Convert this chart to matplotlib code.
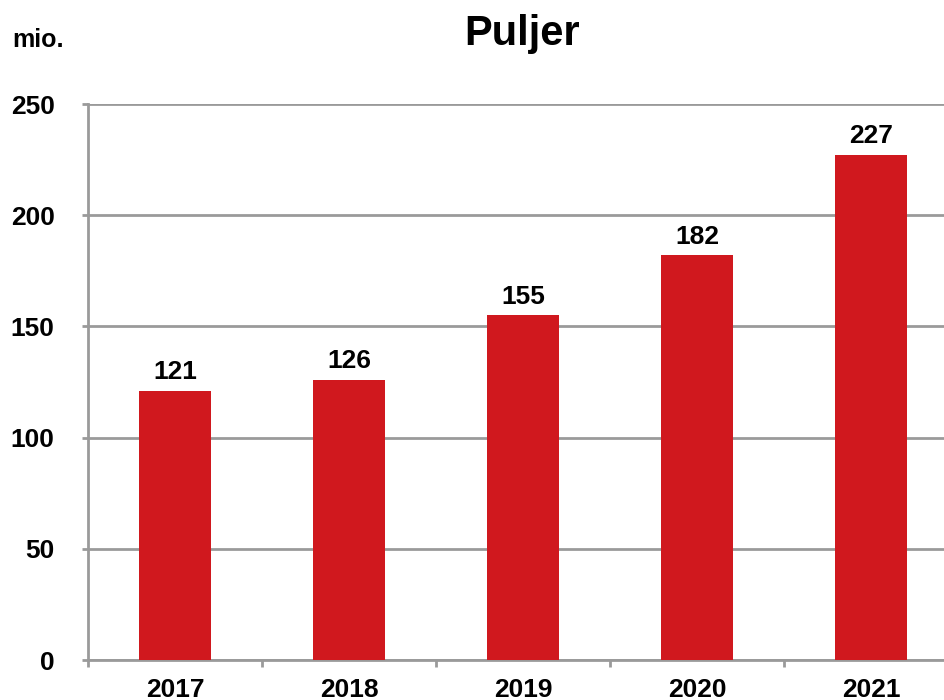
import matplotlib
matplotlib.use("Agg")
import matplotlib.pyplot as plt
import numpy as np

plt.rcParams['font.family'] = ['Liberation Sans', 'DejaVu Sans']

years = ["2017", "2018", "2019", "2020", "2021"]
values = [121, 126, 155, 182, 227]
yticks = [0, 50, 100, 150, 200, 250]

W, H = 944, 700
fig = plt.figure(figsize=(W/100, H/100), dpi=100)
left, right, top, bottom = 88, 958, 104, 660
ax = fig.add_axes([left/W, 1-bottom/H, (right-left)/W, (bottom-top)/H])

x = np.arange(len(years))
bar_color = "#D0181E"
ax.bar(x, values, width=0.41, color=bar_color, zorder=3)
for xi, v in zip(x, values):
    ax.text(xi, v + 3, str(v), ha="center", va="bottom", fontsize=19, fontweight="bold", zorder=4)

ax.set_xlim(-0.5, len(years) - 0.5)
ax.set_ylim(0, 250)
ax.set_yticks(yticks)
ax.set_yticklabels([str(t) for t in yticks], fontsize=19, fontweight="bold")
ax.set_xticks(x)
ax.set_xticklabels(years, fontsize=19, fontweight="bold")
ax.set_xticks(np.arange(len(years) + 1) - 0.5, minor=True)

grid_c = "#9A9A9A"
ax.yaxis.grid(True, color=grid_c, linewidth=2, zorder=0)
ax.xaxis.grid(False)
for s in ["top", "right"]:
    ax.spines[s].set_visible(False)
for s in ["left", "bottom"]:
    ax.spines[s].set_color(grid_c)
    ax.spines[s].set_linewidth(2)
ax.tick_params(axis="y", length=4, width=2, color=grid_c, pad=20)
ax.tick_params(axis="x", which="major", length=0, pad=13)
ax.tick_params(axis="x", which="minor", length=5, width=2, color=grid_c)

fig.text(522/W, 1-34/H, "Puljer", ha="center", va="center", fontsize=30, fontweight="bold")
fig.text(12/W, 1-40/H, "mio.", ha="left", va="center", fontsize=18, fontweight="bold")

fig.savefig("out.png", dpi=100)
